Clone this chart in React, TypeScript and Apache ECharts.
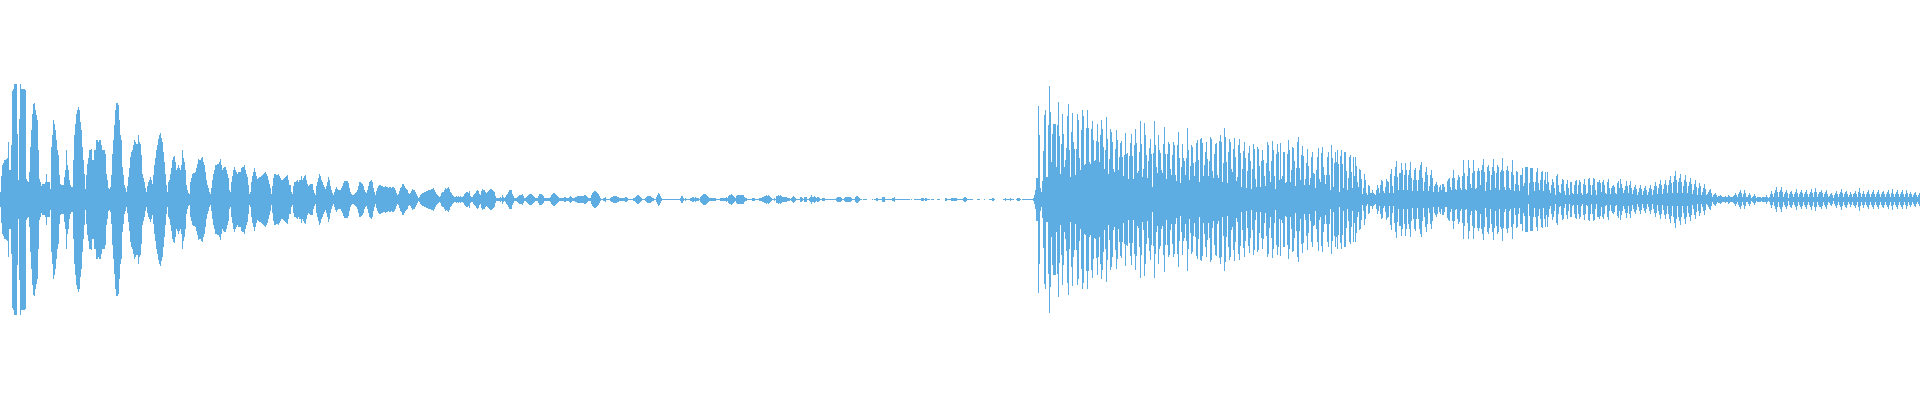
import React, { useEffect, useRef } from "react";
import * as echarts from "echarts";

const peaksA = [
8,24,35,37,40,40,41,42,58,30,30,55,109,111,116,116,116,66,20,81,
116,111,111,111,111,110,21,19,18,28,53,70,86,96,97,90,85,80,50,21,
18,14,16,16,16,18,26,18,18,18,11,53,65,80,76,70,60,50,45,25,
16,15,15,15,23,30,50,35,30,20,15,13,13,40,65,76,86,90,93,90,
78,70,53,40,26,11,25,36,42,50,50,51,40,40,50,50,60,60,58,60,
60,55,50,50,50,46,26,20,12,11,13,25,46,60,75,90,97,97,95,80,
65,60,33,25,15,12,8,14,23,32,43,48,50,55,60,58,56,56,65,58,
56,45,26,22,18,12,8,14,18,20,23,20,16,25,35,42,50,55,61,65,
67,62,58,48,38,26,15,8,18,20,26,32,40,43,44,38,30,32,35,32,
30,35,50,42,38,30,15,10,7,6,18,22,26,27,27,28,32,36,41,40,
40,42,43,38,35,28,20,15,12,8,6,12,20,26,30,35,35,36,36,38,
41,35,30,32,33,33,30,26,22,10,8,18,24,30,33,30,28,26,28,28,
28,32,33,33,35,30,26,23,15,6,8,18,24,28,32,28,24,21,22,23,
23,24,25,26,27,28,26,24,20,16,12,6,14,22,26,26,25,25,26,24,
22,20,20,21,22,23,24,25,20,15,15,8,6,14,18,18,19,20,18,20,
20,24,20,22,24,25,20,16,14,15,16,16,16,10,7,5,14,18,22,26,
24,20,18,15,13,11,14,18,23,20,14,10,7,5,8,11,13,11,10,10,
10,12,14,17,19,19,19,19,17,12,8,6,5,5,6,7,8,10,14,18,
18,17,16,14,10,8,7,10,14,18,19,20,18,12,8,5,9,12,14,15,
15,14,14,13,13,14,13,13,12,13,13,12,13,13,12,10,7,5,6,9,
12,13,16,16,14,12,11,10,7,6,7,9,11,10,10,8,6,4,2,3,
5,6,7,7,8,8,9,9,10,10,10,11,11,12,10,8,6,5,4,3,
4,7,8,8,10,12,11,12,13,11,8,7,5,4,3,3,4,3,4,3,
4,3,3,4,6,7,8,8,7,9,4,3,3,5,6,7,9,10,9,6,
];

const peaksB = [
5,9,11,10,10,8,7,8,9,10,11,11,10,9,8,4,2,2,2,2,
3,2,5,3,2,3,5,6,8,10,10,10,6,4,2,2,2,3,4,5,
5,5,6,4,2,2,3,4,5,6,6,6,5,4,3,2,2,2,4,6,
6,6,5,4,2,2,2,2,2,2,3,5,6,7,7,6,5,4,3,2,
2,2,2,2,3,3,2,2,2,3,4,3,2,2,2,3,3,4,4,4,
4,4,4,4,5,5,4,3,2,2,2,5,7,8,9,9,8,7,6,4,
2,1,1,2,2,3,1,1,1,1,2,3,3,4,4,4,4,3,3,2,
2,2,2,2,2,3,3,2,1,1,1,1,1,2,2,3,4,5,5,4,
3,2,1,1,1,2,3,4,4,4,4,3,2,2,1,1,3,5,7,6,
4,2,1,1,1,1,1,1,1,1,1,1,1,1,1,1,1,1,1,1,
2,4,4,2,1,2,1,1,1,1,2,2,3,3,2,3,2,2,2,1,
3,4,5,6,6,6,5,4,3,2,2,2,2,2,2,2,1,1,1,1,
2,2,2,2,2,2,3,2,4,5,5,6,5,4,3,2,4,5,5,5,
5,5,5,5,3,2,2,1,1,1,1,1,2,2,2,1,1,1,1,2,
2,2,3,3,4,4,5,4,5,4,3,2,1,1,2,1,4,4,5,4,
5,4,3,3,3,3,3,2,2,2,1,2,3,4,3,2,1,1,1,1,
3,3,2,1,3,3,3,1,1,2,3,5,3,3,4,3,2,3,3,2,
1,1,2,2,2,1,1,1,1,1,1,1,1,1,1,1,2,3,3,3,
3,2,1,1,2,3,3,3,3,3,3,2,1,1,1,3,4,4,3,2,
1,1,0,1,1,1,1,0,0,0,0,0,1,0,1,1,2,2,1,1,
1,1,3,3,3,1,1,1,1,1,1,1,2,2,3,1,1,1,1,1,
1,1,1,1,1,1,1,1,1,1,0,1,0,0,1,1,1,1,1,1,
1,2,2,2,1,2,2,1,1,1,0,1,1,1,0,0,0,1,1,1,
0,0,0,0,0,2,2,1,1,1,1,2,2,2,2,2,2,1,1,1,
];

const peaksC = [
1,1,1,2,3,3,2,1,1,1,1,1,1,0,0,0,0,1,1,1,
0,0,0,0,1,0,0,0,0,1,1,1,2,2,1,0,0,0,0,0,
0,0,0,1,1,2,1,1,1,1,2,1,1,1,0,0,1,2,2,2,
1,0,1,1,1,1,1,1,1,1,1,1,1,2,5,10,22,22,94,65,
12,8,19,49,85,90,23,23,75,114,88,38,66,76,76,76,33,75,98,64,
26,56,86,66,33,40,52,84,96,50,23,68,87,58,51,25,51,86,80,42,
30,70,90,84,35,36,72,90,72,38,36,71,79,60,39,40,59,76,58,38,
65,80,71,53,31,50,83,61,26,41,71,68,58,31,28,51,70,60,30,43,
57,59,43,24,45,67,46,47,21,44,57,66,44,21,55,71,57,27,29,48,
79,56,23,31,77,65,45,22,39,52,61,46,13,47,79,55,33,27,65,50,
47,30,27,56,73,46,21,46,58,56,31,25,45,58,55,25,19,55,68,42,
17,33,56,42,39,25,42,72,50,20,34,55,53,37,24,38,57,60,40,18,
61,62,57,24,35,48,58,41,24,39,63,61,29,22,46,56,57,25,22,59,
65,58,18,37,72,63,38,17,48,61,58,31,28,51,62,43,19,23,55,61,
47,13,31,49,58,42,12,29,47,54,39,11,31,56,51,21,13,53,51,34,
13,39,50,40,24,14,37,58,55,29,18,39,59,50,24,11,46,56,48,20,
57,21,24,48,48,17,18,46,60,50,18,30,53,52,39,14,32,58,63,32,
20,45,54,44,15,21,37,51,34,15,22,43,48,27,26,12,30,43,52,21,
18,47,53,33,25,16,25,43,48,25,10,55,42,13,37,48,38,50,36,8,
44,50,36,12,48,48,29,10,22,43,45,28,12,43,24,43,34,18,13,31,
30,21,6,12,26,20,7,5,15,14,7,7,10,7,6,5,10,15,12,7,
15,20,19,9,7,13,21,19,18,7,26,31,14,7,24,33,39,23,10,27,
27,37,30,10,25,37,30,10,25,30,38,22,9,20,30,32,20,9,20,30,
35,38,22,9,18,28,33,25,9,14,25,30,22,8,14,16,18,15,8,13,
];

const peaksD = [
15,10,16,16,13,8,8,19,21,22,13,10,22,30,22,11,10,20,25,23,
12,10,24,40,27,11,10,24,40,32,16,12,27,40,29,11,12,29,32,29,
15,30,35,41,28,9,18,33,35,29,10,25,33,41,29,12,27,35,33,10,
28,30,42,29,13,10,30,34,29,12,10,28,40,25,9,16,29,28,15,9,
25,25,32,14,17,33,33,33,5,17,32,32,32,18,9,18,28,32,17,10,
20,28,29,9,20,28,16,28,18,10,7,15,21,18,12,5,24,26,15,8,
7,16,21,20,9,5,16,20,12,5,18,18,7,6,15,19,20,6,15,20,
18,7,5,16,21,15,6,7,21,22,15,5,15,22,21,10,5,18,18,20,
17,8,18,20,15,7,6,18,21,12,6,12,14,15,13,7,6,17,19,12,
21,16,12,7,10,14,19,14,7,15,19,12,6,10,13,15,11,5,8,12,
15,11,5,9,12,14,10,5,8,12,15,11,5,10,14,18,14,6,12,16,
20,15,6,11,16,20,15,7,15,20,24,17,7,18,24,29,20,7,18,22,
26,18,7,14,20,25,18,7,14,18,22,16,6,10,16,20,13,5,12,17,
14,5,8,12,16,11,5,6,8,10,11,7,3,5,6,7,5,3,4,4,
5,4,3,3,3,4,3,3,5,4,3,3,3,4,5,7,5,3,6,8,
10,7,3,6,10,7,3,3,5,7,5,2,3,4,6,4,2,3,3,3,
3,2,3,3,3,3,5,3,2,3,6,9,6,3,7,10,13,8,3,8,
10,13,8,3,6,8,10,7,2,6,8,9,6,3,6,8,11,7,3,6,
8,10,7,3,6,8,10,6,3,6,8,11,7,3,8,12,8,3,6,8,
8,10,7,3,6,8,10,6,3,4,6,7,5,2,5,7,9,6,3,6,
8,11,7,3,6,8,9,6,3,5,8,6,3,6,7,9,6,3,8,12,
7,3,6,9,6,3,6,8,10,6,3,6,8,10,6,3,6,8,10,6,
3,6,8,9,6,3,6,8,10,6,3,7,11,6,3,6,8,10,6,3,
6,8,10,6,3,6,10,7,3,6,8,6,3,5,7,8,5,3,5,7,
];

const peaks = [...peaksA, ...peaksB, ...peaksC, ...peaksD];
const samples = peaks.map((_, i) => String(i));
// The wave's centre line sits half a unit above zero: the upper half reaches n, the lower n-1.
const upper = peaks;
const lower = peaks.map((v) => (v > 1 ? 1 - v : 0));

const WAVE_COLOR = "#5dade2";

export default function App() {
  const ref = useRef<HTMLDivElement>(null);

  useEffect(() => {
    document.body.style.margin = "0";
    const chart = echarts.init(ref.current!, undefined, { renderer: "svg" });
    const series = (data: number[]) => ({
      type: "bar" as const,
      stack: "wave",
      data,
      barWidth: 1,
      progressive: 0,
      silent: true,
      itemStyle: { color: WAVE_COLOR },
    });
    chart.setOption({
      animation: false,
      backgroundColor: "#ffffff",
      grid: { left: 0, right: 0, top: 0, bottom: 0 },
      xAxis: { type: "category", data: samples, show: false },
      yAxis: { type: "value", min: -200, max: 200, show: false },
      series: [series(upper), series(lower)],
    });
    return () => chart.dispose();
  }, []);

  return <div ref={ref} style={{ width: 1920, height: 400 }} />;
}
